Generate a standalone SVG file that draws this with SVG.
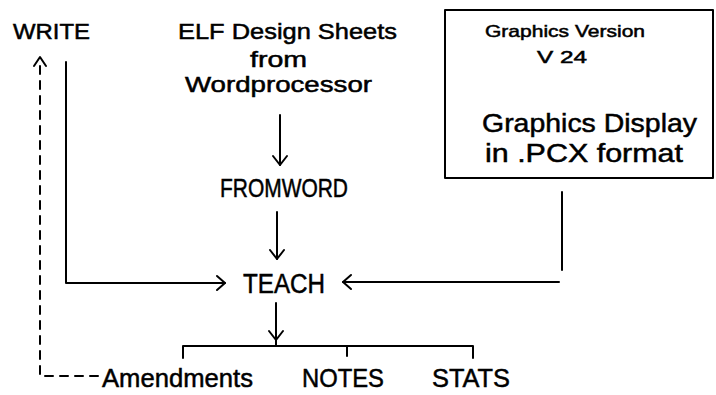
<svg xmlns="http://www.w3.org/2000/svg" width="716" height="395" viewBox="0 0 716 395">
<style>
.t{font-family:"Liberation Sans",Arial,sans-serif;fill:#000;stroke:#000;stroke-width:0.5;}
.ln{fill:none;stroke:#000;stroke-width:2;stroke-linecap:round;stroke-linejoin:round;}
.ds{stroke-dasharray:8 7;}
</style>
<rect width="716" height="395" fill="#fff"/>
<g id="write"><text class="t" x="13" y="39" font-size="22" textLength="77" lengthAdjust="spacingAndGlyphs">WRITE</text></g>
<g id="elf">
<text class="t" x="178" y="39" font-size="22" textLength="219" lengthAdjust="spacingAndGlyphs">ELF Design Sheets</text>
<text class="t" x="250" y="67" font-size="22" textLength="57" lengthAdjust="spacingAndGlyphs">from</text>
<text class="t" x="185" y="92" font-size="22" textLength="187" lengthAdjust="spacingAndGlyphs">Wordprocessor</text>
</g>
<g id="graphics">
<rect class="ln" x="445" y="10" width="268" height="168"/>
<text class="t" x="485" y="37" font-size="17" stroke-width="0.2" textLength="160" lengthAdjust="spacingAndGlyphs">Graphics Version</text>
<text class="t" x="537" y="63" font-size="17" stroke-width="0.2" textLength="50" lengthAdjust="spacingAndGlyphs">V 24</text>
<text class="t" x="482" y="132" font-size="26" textLength="215" lengthAdjust="spacingAndGlyphs">Graphics Display</text>
<text class="t" x="485" y="162" font-size="26" textLength="198" lengthAdjust="spacingAndGlyphs">in .PCX  format</text>
</g>
<g id="fromword"><text class="t" x="220" y="197" font-size="26" textLength="128" lengthAdjust="spacingAndGlyphs">FROMWORD</text></g>
<g id="teach"><text class="t" x="243" y="293" font-size="27" textLength="82" lengthAdjust="spacingAndGlyphs">TEACH</text></g>
<g id="amendments"><text class="t" x="102" y="387" font-size="26" textLength="151" lengthAdjust="spacingAndGlyphs">Amendments</text></g>
<g id="notes"><text class="t" x="302" y="387" font-size="26" textLength="82" lengthAdjust="spacingAndGlyphs">NOTES</text></g>
<g id="stats"><text class="t" x="432" y="387" font-size="26" textLength="78" lengthAdjust="spacingAndGlyphs">STATS</text></g>
<g id="connectors">
<path class="ln ds" d="M98 376 H40 V62"/>
<path class="ln" d="M34 66 L40 57 L46 66"/>
<path class="ln" d="M66 62 V283 H225"/>
<path class="ln" d="M217 276 L225 283 L217 290"/>
<path class="ln" d="M562 192 V270"/>
<path class="ln" d="M559 282 H343"/>
<path class="ln" d="M351 275 L343 282 L351 289"/>
<path class="ln" d="M280 115 V165"/>
<path class="ln" d="M273 156 L280 165 L287 156"/>
<path class="ln" d="M277 212 V259"/>
<path class="ln" d="M270 250 L277 259 L284 250"/>
<path class="ln" d="M276 303 V345"/>
<path class="ln" d="M269 331 L276 340 L283 331"/>
<path class="ln" d="M183 358 V346 H473 V358"/>
<path class="ln" d="M347 346 V356"/>
</g>
</svg>
